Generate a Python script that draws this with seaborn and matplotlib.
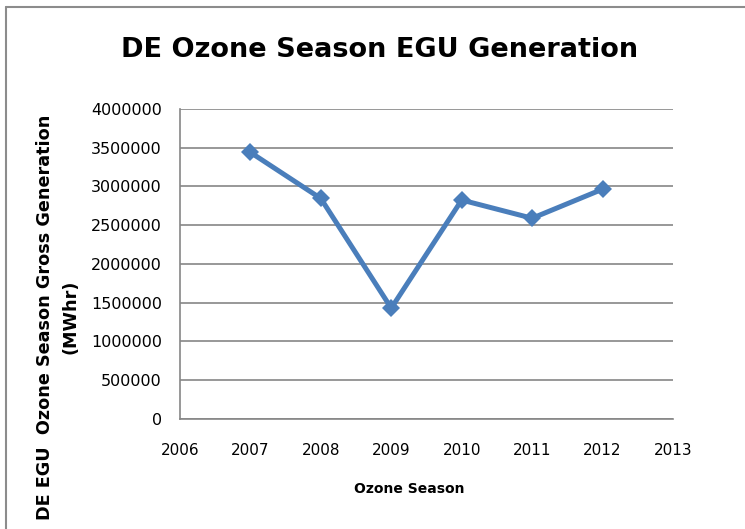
import matplotlib
matplotlib.use("Agg")
import matplotlib.pyplot as plt
from matplotlib.lines import Line2D
import seaborn as sns
import pandas as pd

# ozone season gross generation (MWhr)
seasons = [2007, 2008, 2009, 2010, 2011, 2012]
generation = [3440000, 2845000, 1430000, 2825000, 2590000, 2965000]

x_ticks = list(range(2006, 2014))
y_ticks = list(range(0, 4000001, 500000))

df = pd.DataFrame({'season': seasons, 'generation': generation})

sns.set_style('white')
plt.rcParams['font.family'] = ['DejaVu Sans']
plt.rcParams['text.color'] = 'black'

fig = plt.figure(figsize=(7.45, 5.29), dpi=100)
ax = fig.add_axes([0.2416, 0.208, 0.6617, 0.586])

sns.lineplot(data=df, x='season', y='generation', ax=ax, color='#4a7ebb',
             linewidth=3.6, marker='D', markersize=9, markeredgewidth=0)

ax.set_xlim(2006, 2013)
ax.set_ylim(0, 4000000)
ax.set_xticks(x_ticks)
ax.set_yticks(y_ticks)
ax.set_xticklabels([str(t) for t in x_ticks], fontsize=11)
ax.set_yticklabels([str(t) for t in y_ticks], fontsize=11.5)
ax.yaxis.grid(True, color='#868686', linewidth=1.2)
ax.xaxis.grid(False)
for side in ['top', 'right']:
    ax.spines[side].set_visible(False)
for side in ['left', 'bottom']:
    ax.spines[side].set_color('#868686')
    ax.spines[side].set_linewidth(1.2)
ax.tick_params(axis='both', which='both', direction='out', length=5,
               width=1.2, color='#868686', pad=8, labelcolor='black')
ax.tick_params(axis='x', pad=12)
ax.set_xlabel('')
ax.set_ylabel('')

fig.text(409 / 745, 1 - 489 / 529, 'Ozone Season', ha='center', va='center',
         fontsize=10, fontweight='bold')
fig.text(58 / 745, 1 - 317 / 529, 'DE EGU  Ozone Season Gross Generation\n(MWhr)',
         ha='center', va='center', rotation=90, fontsize=12.7, fontweight='bold',
         linespacing=1.5)
fig.text(380 / 745, 1 - 50 / 529, 'DE Ozone Season EGU Generation', ha='center',
         va='center', fontsize=19.5, fontweight='bold')

# chart-area frame, only left and top edges fall inside the image
fig.add_artist(Line2D([6.5 / 745, 6.5 / 745], [0, 1 - 6.5 / 529],
                      transform=fig.transFigure, color='#8c8c8c', linewidth=1.5))
fig.add_artist(Line2D([6.5 / 745, 1], [1 - 6.5 / 529, 1 - 6.5 / 529],
                      transform=fig.transFigure, color='#8c8c8c', linewidth=1.5))

fig.savefig('out.png', dpi=100, facecolor='white')
